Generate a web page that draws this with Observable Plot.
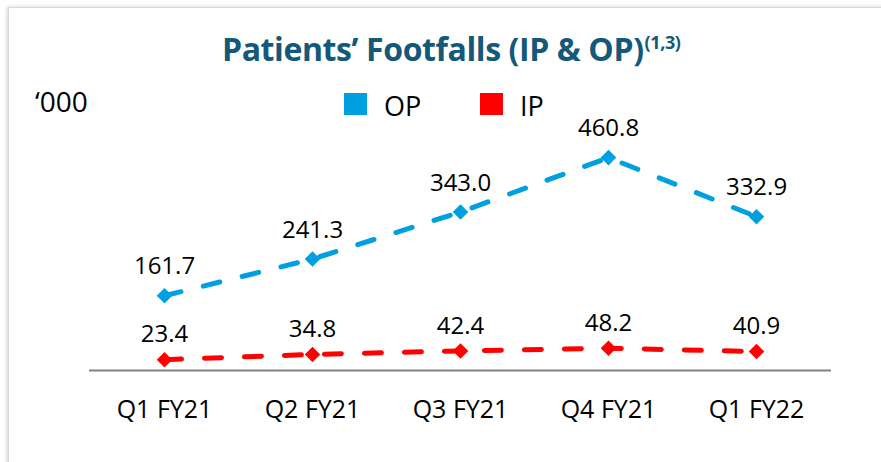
<!DOCTYPE html>
<html>
<head>
<meta charset="utf-8">
<script src="https://cdn.jsdelivr.net/npm/d3@7"></script>
<script src="https://cdn.jsdelivr.net/npm/@observablehq/plot@0.6"></script>
<style>
  html, body { margin: 0; padding: 0; background: #fff; overflow: hidden; }
  #wrap { position: relative; width: 881px; height: 462px; overflow: hidden; font-family: "Open Sans", sans-serif; }
  #frame { position: absolute; left: 8px; top: 7px; width: 900px; height: 520px; border: 1px solid #d9d9d9; box-shadow: -1px 0 4px rgba(0,0,0,0.18); background: #fff; }
  #title { position: absolute; left: 222px; top: 27px; white-space: nowrap; font-weight: 700; font-size: 32px; line-height: normal; color: #14597a; letter-spacing: -0.4px; }
  #title sup { font-size: 18px; vertical-align: 0; position: relative; top: -12px; margin-left: 1px; }
  #unit { position: absolute; left: 35px; top: 82px; font-size: 28px; line-height: normal; color: #000; }
  .sw { position: absolute; width: 23px; height: 22px; top: 93px; }
  .lt { position: absolute; top: 87px; font-size: 27px; line-height: normal; color: #000; }
  #chart { position: absolute; left: 0; top: 0; }
</style>
</head>
<body>
<div id="wrap">
  <div id="frame"></div>
  <div id="title">Patients’ Footfalls (IP &amp; OP)<sup>(1,3)</sup></div>
  <div id="unit">‘000</div>
  <div id="legend"></div>
  <div id="chart"></div>
</div>
<script>
const quarters = ["Q1 FY21", "Q2 FY21", "Q3 FY21", "Q4 FY21", "Q1 FY22"];
const opValues = [161.7, 241.3, 343.0, 460.8, 332.9];
const ipValues = [23.4, 34.8, 42.4, 48.2, 40.9];
const seriesNames = ["OP", "IP"];
const seriesColors = ["#009fe0", "#ff0000"];

const rows = [];
quarters.forEach((q, i) => {
  rows.push({quarter: q, series: "OP", value: opValues[i]});
  rows.push({quarter: q, series: "IP", value: ipValues[i]});
});
const op = rows.filter(d => d.series === "OP");
const ip = rows.filter(d => d.series === "IP");

// legend (HTML, above the SVG)
const legend = document.getElementById("legend");
const legendX = [344, 480];
seriesNames.forEach((s, i) => {
  const sw = document.createElement("div");
  sw.className = "sw";
  sw.style.left = legendX[i] + "px";
  sw.style.background = seriesColors[i];
  const t = document.createElement("div");
  t.className = "lt";
  t.style.left = (legendX[i] + 40) + "px";
  t.textContent = s;
  legend.appendChild(sw);
  legend.appendChild(t);
});

const lineOpts = (color) => ({x: "quarter", y: "value", stroke: color, strokeWidth: 5, strokeDasharray: "17,23", strokeLinecap: "round"});
const dotOpts = (color) => ({x: "quarter", y: "value", fill: color, symbol: "diamond2", r: 7});
const labelOpts = (dy) => ({x: "quarter", y: "value", text: d => d.value.toFixed(1), dy, fontSize: 24, fill: "#000"});

const chart = Plot.plot({
  width: 881,
  height: 462,
  marginLeft: 89,
  marginRight: 50,
  marginTop: 139,
  marginBottom: 92,
  style: {background: "transparent", fontFamily: "Open Sans, sans-serif", overflow: "visible"},
  x: {type: "point", domain: quarters, padding: 0.5, label: null},
  y: {domain: [0, 500], axis: null},
  marks: [
    Plot.ruleY([0], {stroke: "#808080", strokeWidth: 2}),
    Plot.axisX({tickSize: 0, tickPadding: 30, fontSize: 25, fill: "#000", label: null}),
    Plot.line(op, lineOpts(seriesColors[0])),
    Plot.line(ip, lineOpts(seriesColors[1])),
    Plot.dot(op, dotOpts(seriesColors[0])),
    Plot.dot(ip, dotOpts(seriesColors[1])),
    Plot.text(op, labelOpts(-29)),
    Plot.text(ip, labelOpts(-25))
  ]
});
document.getElementById("chart").appendChild(chart);
</script>
</body>
</html>
